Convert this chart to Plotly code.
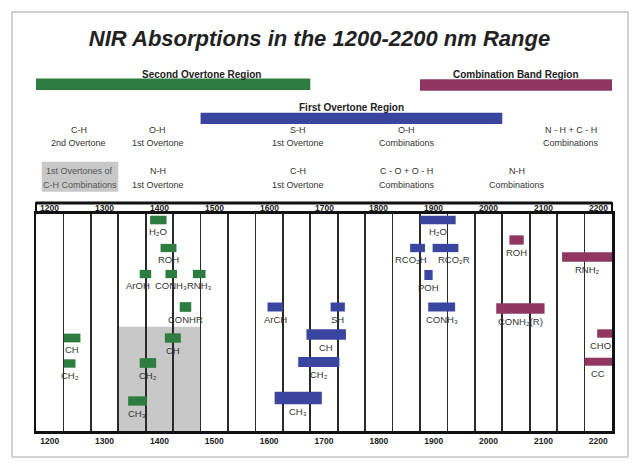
import plotly.graph_objects as go
import numpy as np

# ---------------- data ----------------
band_labels = ["H₂O", "ROH", "ArOH", "CONH₃", "RNH₃", "CONHR",
               "CH", "CH₂", "CH", "CH₂", "CH₃",
               "ArCH", "SH", "CH", "CH₂", "CH₃",
               "H₂O", "RCO₂H", "RCO₂R", "POH", "CONH₃",
               "ROH", "RNH₂", "CONH₂(R)", "CHO", "CC"]
band_start_nm = [1383, 1402, 1364, 1411, 1461, 1437, 1226, 1226, 1410, 1364, 1343,
                 1597, 1712, 1668, 1653, 1610,
                 1875, 1857, 1898, 1883, 1890,
                 2038, 2134, 2014, 2198, 2175]
band_end_nm = [1413, 1431, 1385, 1432, 1484, 1458, 1256, 1247, 1439, 1394, 1377,
               1625, 1738, 1740, 1728, 1696,
               1940, 1884, 1945, 1898, 1939,
               2064, 2225, 2102, 2225, 2225]
band_region = (["second"] * 11) + (["first"] * 10) + (["combination"] * 5)
# vertical display level of each band (chart rows, top = 0)
band_level = [7, 35, 61, 61, 61, 94, 125, 150.5, 125, 150, 188,
              94, 94, 121.5, 149, 185,
              7, 35, 35, 62, 94,
              27, 44, 95.5, 120.5, 148.7]

regions = ["second", "first", "combination"]
region_names = ["Second Overtone Region", "First Overtone Region", "Combination Band Region"]
region_start_nm = [1175, 1475, 1875]
region_end_nm = [1675, 2025, 2225]

ch_combination_region_nm = [1325, 1475]

tick_values = [1200, 1300, 1400, 1500, 1600, 1700, 1800, 1900, 2000, 2100, 2200]
tick_text = [str(v) for v in tick_values]

header_row1 = [("C-H", "2nd Overtone", 1253), ("O-H", "1st Overtone", 1397), ("S-H", "1st Overtone", 1652),
               ("O-H", "Combinations", 1851), ("N - H + C - H", "Combinations", 2150)]
header_row2 = [("N-H", "1st Overtone", 1397), ("C-H", "1st Overtone", 1652),
               ("C - O + O - H", "Combinations", 1851), ("N-H", "Combinations", 2052)]

# ---------------- styles ----------------
W, H = 640, 467
ML, MR, MT, MB = 36, 28, 213, 36
PW, PH = W - ML - MR, H - MT - MB
colors = {"second": "#2e7d40", "first": "#3a45a0", "combination": "#913660"}
bar_thickness = [8.6, 8.3, 8.3, 8.3, 8.3, 9.7, 8.7, 8.4, 9.4, 9.7, 9.3,
                 9, 9, 10.7, 10, 12.3,
                 8.6, 8.3, 8.3, 10, 9,
                 9.3, 9.4, 10.7, 8.4, 8]
label_nudge_px = {2: -7, 17: -7, 18: 8, 24: -4}
FONT = "Liberation Sans, Arial, DejaVu Sans, sans-serif"
TXT = "#333333"


def yp(px):
    return (H - MB - px) / PH


def xp(px):
    return (px - ML) / PW


fig = go.Figure()

fig.add_trace(go.Bar(
    orientation="h",
    base=band_start_nm,
    x=[e - s for s, e in zip(band_start_nm, band_end_nm)],
    y=band_level,
    width=bar_thickness,
    marker=dict(color=[colors[r] for r in band_region], line=dict(width=0)),
    hoverinfo="skip",
    showlegend=False,
))

annotations = []
for i, lab in enumerate(band_labels):
    annotations.append(dict(
        x=(band_start_nm[i] + band_end_nm[i]) / 2, xref="x",
        y=band_level[i] + bar_thickness[i] / 2, yref="y",
        text=lab, showarrow=False, yanchor="top", xanchor="center",
        xshift=label_nudge_px.get(i, 0), yshift=0,
        font=dict(family=FONT, size=9.5, color=TXT)))

# top tick labels in the strip
for v, t in zip(tick_values, tick_text):
    annotations.append(dict(x=v, xref="x", y=yp(208), yref="paper", text=t, showarrow=False,
                            yanchor="middle", font=dict(family=FONT, size=8.5, color="#222", weight="bold")))

# header texts
for top, bot, xnm in header_row1:
    annotations.append(dict(x=xnm, xref="x", y=yp(129.5), yref="paper", text=top, showarrow=False,
                            yanchor="middle", font=dict(family=FONT, size=9, color=TXT)))
    annotations.append(dict(x=xnm, xref="x", y=yp(143), yref="paper", text=bot, showarrow=False,
                            yanchor="middle", font=dict(family=FONT, size=9, color=TXT)))
for top, bot, xnm in header_row2:
    annotations.append(dict(x=xnm, xref="x", y=yp(171), yref="paper", text=top, showarrow=False,
                            yanchor="middle", font=dict(family=FONT, size=9, color=TXT)))
    annotations.append(dict(x=xnm, xref="x", y=yp(184.5), yref="paper", text=bot, showarrow=False,
                            yanchor="middle", font=dict(family=FONT, size=9, color=TXT)))
annotations.append(dict(x=1255, xref="x", y=yp(171), yref="paper", text="1st Overtones of", showarrow=False,
                        yanchor="middle", font=dict(family=FONT, size=9, color="#555")))
annotations.append(dict(x=1255, xref="x", y=yp(184.5), yref="paper", text="C-H Combinations", showarrow=False,
                        yanchor="middle", font=dict(family=FONT, size=9, color="#555")))

# region bars + labels
region_bar_px = {"second": (78.5, 90), "first": (112.7, 124), "combination": (79.3, 90.7)}
region_label_px = {"second": (1476, 74), "first": (1750, 108), "combination": (2050, 74.5)}
shapes = []
for r, name, s, e in zip(regions, region_names, region_start_nm, region_end_nm):
    y0, y1 = region_bar_px[r]
    shapes.append(dict(type="rect", xref="x", yref="paper", x0=s, x1=e, y0=yp(y1), y1=yp(y0),
                       fillcolor=colors[r], line=dict(width=0)))
    lx, ly = region_label_px[r]
    annotations.append(dict(x=lx, xref="x", y=yp(ly), yref="paper", text=name, showarrow=False,
                            yanchor="middle", font=dict(family=FONT, size=10, color="#222", weight="bold")))

# gray C-H combination region inside chart
shapes.append(dict(type="rect", xref="x", yref="y", x0=ch_combination_region_nm[0], x1=ch_combination_region_nm[1],
                   y0=113.7, y1=218, fillcolor="#c8c8c8", line=dict(width=0), layer="below"))
# gray header box
shapes.append(dict(type="rect", xref="x", yref="paper", x0=1185.5, x1=1325, y0=yp(191.7), y1=yp(161.7),
                   fillcolor="#c8c8c8", line=dict(width=0), layer="below"))
# top strip with tick labels
shapes.append(dict(type="rect", xref="paper", yref="paper", x0=0, x1=1, y0=1, y1=yp(203),
                   line=dict(color="#111", width=2)))
shapes.append(dict(type="line", xref="paper", yref="paper", x0=0, x1=1, y0=yp(203), y1=yp(203),
                   line=dict(color="#111", width=3)))
# page frame
shapes.append(dict(type="rect", xref="paper", yref="paper", x0=xp(12), x1=xp(628), y0=yp(457), y1=yp(12),
                   line=dict(color="#c4c4c4", width=1.5), layer="below"))

fig.update_layout(
    width=W, height=H,
    margin=dict(l=ML, r=MR, t=MT, b=MB),
    paper_bgcolor="white", plot_bgcolor="white",
    barmode="overlay",
    showlegend=False,
    title=dict(text="<b><i>NIR Absorptions in the 1200-2200 nm Range</i></b>",
               x=319.5 / W, xref="container", xanchor="center",
               y=1 - 38 / H, yref="container", yanchor="middle",
               font=dict(family=FONT, size=22, color="#222")),
    xaxis=dict(range=[1175, 2225], tickmode="array", tickvals=tick_values, ticktext=tick_text,
               ticks="", showgrid=False, zeroline=False,
               showline=True, mirror=True, linecolor="#111", linewidth=2.5,
               tickfont=dict(family=FONT, size=8.5, color="#222", weight="bold"),
               minor=dict(tickmode="array", tickvals=list(np.arange(1225, 2200, 50)),
                          showgrid=True, gridcolor="#2a2a2a", gridwidth=1.8, ticks="")),
    yaxis=dict(range=[218, 0], showgrid=False, zeroline=False, showticklabels=False, ticks="",
               showline=True, mirror=True, linecolor="#111", linewidth=2.5),
    annotations=annotations,
    shapes=shapes,
    hovermode=False,
)

fig.write_html("out.html",
               config={"displayModeBar": False, "staticPlot": True},
               post_script="document.body.style.margin='0px';document.body.style.padding='0px';"
                           "document.documentElement.style.overflow='hidden';")
